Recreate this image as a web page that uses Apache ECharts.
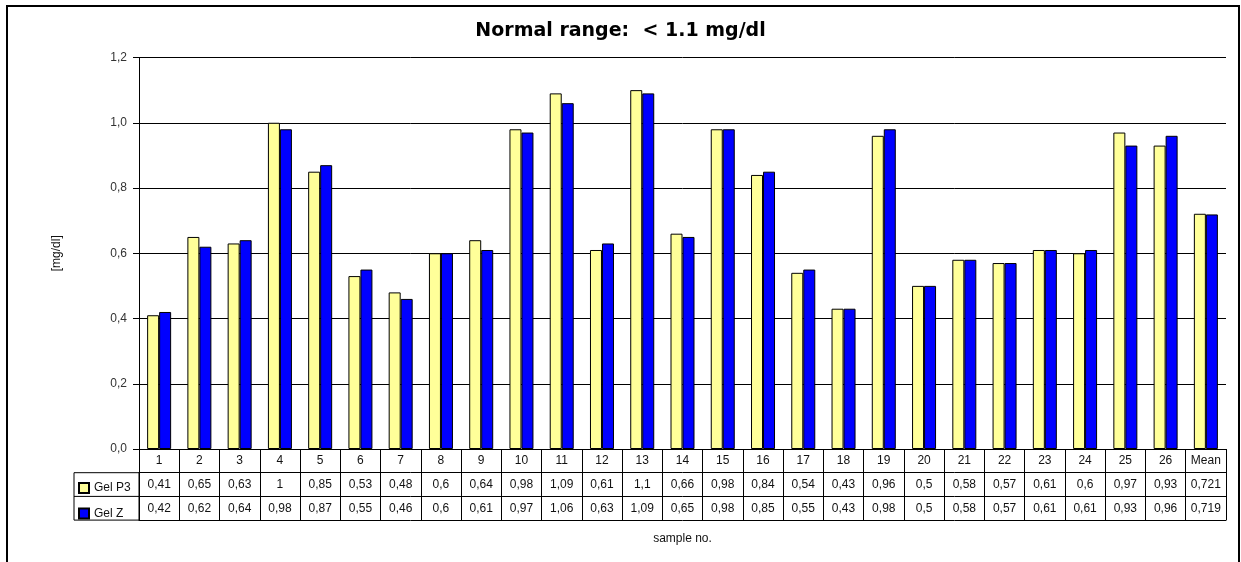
<!DOCTYPE html>
<html>
<head>
<meta charset="utf-8">
<script src="https://cdn.jsdelivr.net/npm/echarts@6/dist/echarts.min.js"></script>
<style>
html,body{margin:0;padding:0;background:#fff;}
#chart{width:1241px;height:562px;}
</style>
</head>
<body>
<div id="chart"></div>
<script>
const categories = ['1','2','3','4','5','6','7','8','9','10','11','12','13','14','15','16','17','18','19','20','21','22','23','24','25','26','Mean'];
const gelP3 = [0.41,0.65,0.63,1,0.85,0.53,0.48,0.6,0.64,0.98,1.09,0.61,1.1,0.66,0.98,0.84,0.54,0.43,0.96,0.5,0.58,0.57,0.61,0.6,0.97,0.93,0.721];
const gelZ = [0.42,0.62,0.64,0.98,0.87,0.55,0.46,0.6,0.61,0.97,1.06,0.63,1.09,0.65,0.98,0.85,0.55,0.43,0.98,0.5,0.58,0.57,0.61,0.61,0.93,0.96,0.719];
const seriesNames = ['Gel P3','Gel Z'];
const yTicks = {min:0, max:1.2, interval:0.2};

const fmt = v => String(v).replace('.', ',');
const FONT = "'Liberation Sans', Arial, sans-serif";
const TXT = '#111';

const chart = echarts.init(document.getElementById('chart'), null, {renderer:'canvas'});

const gridLeft = 139, gridRight = 15, gridTop = 57.5, gridBottom = 113;
const rowH = 23.7;

function tableAxis(data, offset, extra) {
  return Object.assign({
    type:'category', data: data, position:'bottom', offset: offset,
    axisLine:{show:true, lineStyle:{color:'#000', width:1}},
    axisTick:{show:false},
    axisLabel:{show:true, interval:0, margin:6, fontSize:12, fontFamily:FONT, color:TXT, lineHeight:12},
    splitLine:{show:false}
  }, extra || {});
}

const option = {
  animation:false,
  backgroundColor:'#fff',
  title:{
    text:'Normal range:  < 1.1 mg/dl',
    left:'center', top:17,
    textStyle:{fontFamily:"'DejaVu Sans', sans-serif", fontSize:19, fontWeight:'bold', color:'#000'}
  },
  legend:{
    orient:'vertical', left:78, top:482, padding:0,
    itemWidth:10, itemHeight:10, itemGap:13.5,
    icon:'rect',
    textStyle:{fontFamily:FONT, fontSize:12, color:TXT, lineHeight:10},
    data: seriesNames
  },
  grid:{left:gridLeft, right:gridRight, top:gridTop, bottom:gridBottom, containLabel:false},
  xAxis:[
    {
      type:'category', data:categories, position:'bottom',
      axisLine:{show:true, lineStyle:{color:'#000', width:1}},
      axisTick:{show:true, interval:0, length: rowH*3, lineStyle:{color:'#000', width:1}},
      axisLabel:{show:true, interval:0, margin:6, fontSize:12, fontFamily:FONT, color:TXT, lineHeight:12},
      splitLine:{show:false}
    },
    tableAxis(gelP3.map(fmt), rowH),
    tableAxis(gelZ.map(fmt), rowH*2),
    tableAxis(categories, rowH*3, {
      axisLabel:{show:false},
      name:'sample no.', nameLocation:'middle', nameGap:13,
      nameTextStyle:{fontFamily:FONT, fontSize:12, color:TXT}
    })
  ],
  yAxis:{
    type:'value', min:yTicks.min, max:yTicks.max, interval:yTicks.interval,
    name:'[mg/dl]', nameLocation:'middle', nameRotate:90, nameGap:76,
    nameTextStyle:{fontFamily:FONT, fontSize:12, color:TXT},
    axisLine:{show:true, lineStyle:{color:'#000', width:1}},
    axisTick:{show:true, length:6, lineStyle:{color:'#000'}},
    axisLabel:{margin:12, fontSize:12, fontFamily:FONT, color:'#333', formatter: v => v.toFixed(1).replace('.', ',')},
    splitLine:{show:true, lineStyle:{color:'#000', width:1}}
  },
  series:[
    {name:seriesNames[0], type:'bar', data:gelP3, barWidth:12, barGap:'0%',
     itemStyle:{color:'#FFFF99', borderColor:'#000', borderWidth:1}},
    {name:seriesNames[1], type:'bar', data:gelZ, barWidth:12, barGap:'0%',
     itemStyle:{color:'#0000FF', borderColor:'#000', borderWidth:1}}
  ],
  graphic:[
    {type:'rect', shape:{x:7, y:6, width:1232, height:620}, style:{fill:'none', stroke:'#000', lineWidth:2}, silent:true},
    {type:'rect', shape:{x:74, y:449+rowH, width:gridLeft-74, height:rowH*2}, style:{fill:'none', stroke:'#000', lineWidth:1}, silent:true},
    {type:'line', shape:{x1:74, y1:449+rowH*2, x2:gridLeft, y2:449+rowH*2}, style:{stroke:'#000', lineWidth:1}, silent:true}
  ]
};
chart.setOption(option);
</script>
</body>
</html>
